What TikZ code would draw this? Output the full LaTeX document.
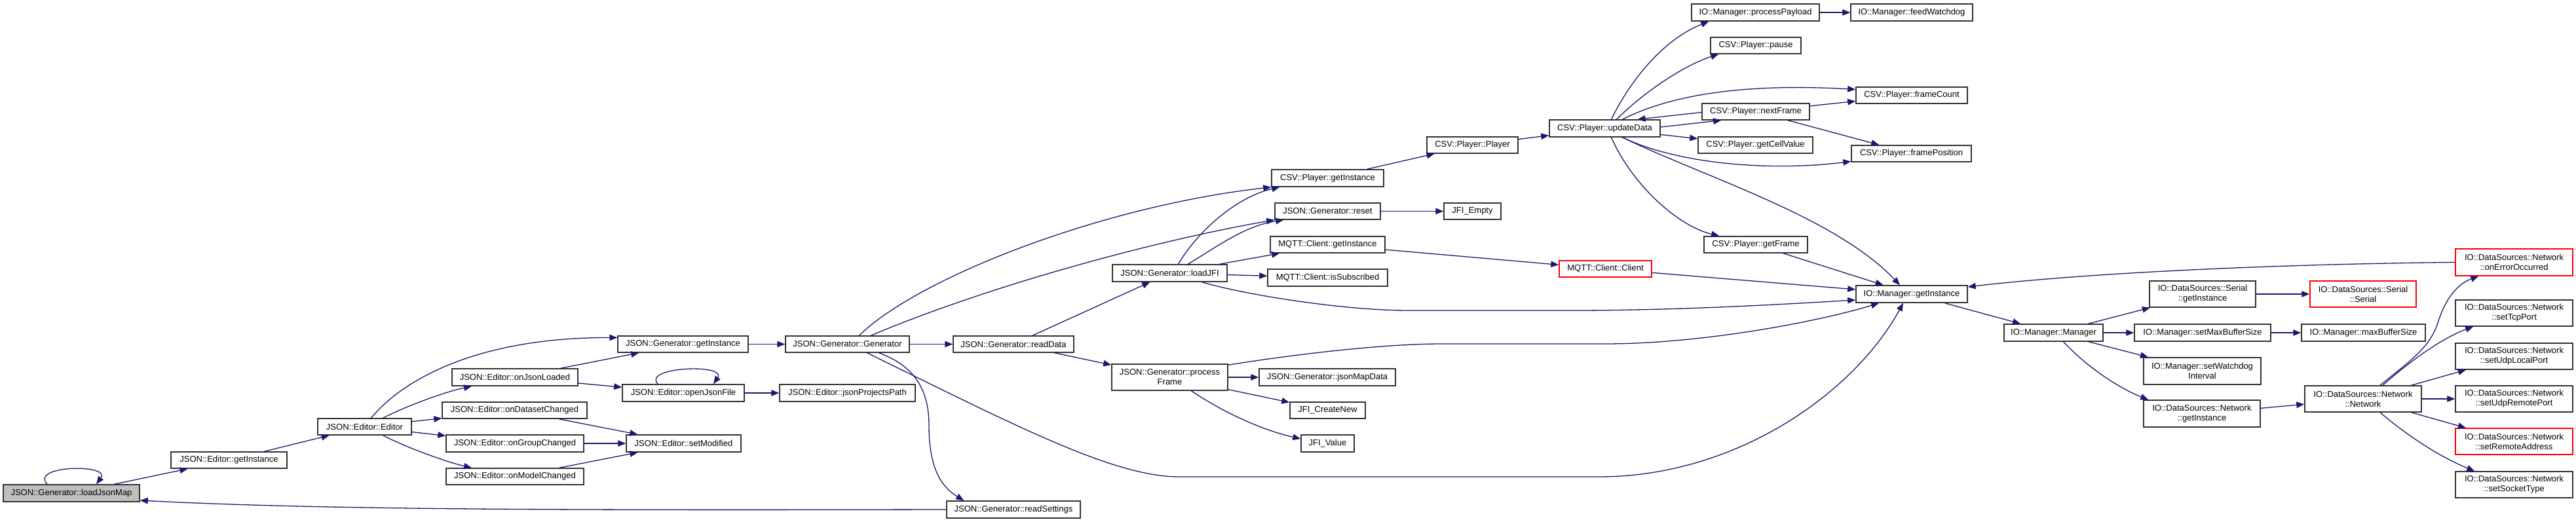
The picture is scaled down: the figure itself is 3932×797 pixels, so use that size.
\documentclass[tikz,border=0pt]{standalone}
\usepackage{fontspec}
\newfontfamily\dxfont{Liberation Sans}
\usetikzlibrary{arrows.meta,calc}
\definecolor{dxblue}{HTML}{191970}
\definecolor{dxgray}{HTML}{BFBFBF}
\tikzset{
  box/.style={draw=black!80, line width=1.5pt, fill=white, inner sep=0pt, align=center,
    font=\dxfont\fontsize{13}{15}\selectfont},
  redbox/.style={box, draw=red},
  edge/.style={draw=dxblue, line width=1.3pt, -{Triangle[length=12pt,width=9.5pt]}}
}
\begin{document}
\begin{tikzpicture}[x=1pt,y=-1pt]
\useasboundingbox (0,0) rectangle (3932,797);
% nodes
\node[box, fill=dxgray, minimum width=208, minimum height=26] (ljm) at (109,753) {JSON::Generator::loadJsonMap};
\node[box, minimum width=177, minimum height=25] (egi) at (349.5,702.5) {JSON::Editor::getInstance};
\node[box, minimum width=143, minimum height=25] (eed) at (556.5,651.5) {JSON::Editor::Editor};
\node[box, minimum width=199, minimum height=25] (ggi) at (1042.5,525.5) {JSON::Generator::getInstance};
\node[box, minimum width=189, minimum height=25] (ggen) at (1293.5,525.5) {JSON::Generator::Generator};
\node[box, minimum width=192, minimum height=26] (ojl) at (786,576) {JSON::Editor::onJsonLoaded};
\node[box, minimum width=186, minimum height=26] (ojf) at (1043,600) {JSON::Editor::openJsonFile};
\node[box, minimum width=207, minimum height=26] (jpp) at (1293.5,600) {JSON::Editor::jsonProjectsPath};
\node[box, minimum width=221, minimum height=25] (odc) at (785.5,626.5) {JSON::Editor::onDatasetChanged};
\node[box, minimum width=210, minimum height=26] (ogc) at (786,677) {JSON::Editor::onGroupChanged};
\node[box, minimum width=175, minimum height=26] (smod) at (1043.5,677) {JSON::Editor::setModified};
\node[box, minimum width=210, minimum height=25] (omc) at (786,727.5) {JSON::Editor::onModelChanged};
\node[box, minimum width=184, minimum height=25] (rdata) at (1547,525.5) {JSON::Generator::readData};
\node[box, minimum width=204, minimum height=26] (rset) at (1547,778) {JSON::Generator::readSettings};
\node[box, minimum width=175, minimum height=26] (ljfi) at (1785.5,417) {JSON::Generator::loadJFI};
\node[box, minimum width=177, minimum height=40] (pfr) at (1785.5,576) {JSON::Generator::process\\Frame};
\node[box, minimum width=171, minimum height=26] (cgi) at (2026.5,272) {CSV::Player::getInstance};
\node[box, minimum width=161, minimum height=25] (rst) at (2026.5,322.5) {JSON::Generator::reset};
\node[box, minimum width=175, minimum height=25] (mgi) at (2026.5,373.5) {MQTT::Client::getInstance};
\node[box, minimum width=183, minimum height=26] (misb) at (2026.5,424) {MQTT::Client::isSubscribed};
\node[box, minimum width=208, minimum height=26] (jmd) at (2026,576) {JSON::Generator::jsonMapData};
\node[box, minimum width=115, minimum height=25] (jcn) at (2026.5,626.5) {JFI\_CreateNew};
\node[box, minimum width=81, minimum height=26] (jval) at (2026.5,677) {JFI\_Value};
\node[box, minimum width=87, minimum height=25] (jem) at (2247.5,322.5) {JFI\_Empty};
\node[box, minimum width=139, minimum height=25] (cpl) at (2247.5,221.5) {CSV::Player::Player};
\node[redbox, minimum width=141, minimum height=25] (mcl) at (2450.5,410.5) {MQTT::Client::Client};
\node[box, minimum width=169, minimum height=26] (upd) at (2449.5,196) {CSV::Player::updateData};
\node[box, minimum width=195, minimum height=26] (ppl) at (2679.5,19) {IO::Manager::processPayload};
\node[box, minimum width=186, minimum height=26] (fwd) at (2918,19) {IO::Manager::feedWatchdog};
\node[box, minimum width=138, minimum height=25] (pau) at (2680,69.5) {CSV::Player::pause};
\node[box, minimum width=164, minimum height=25] (nxf) at (2680,170.5) {CSV::Player::nextFrame};
\node[box, minimum width=175, minimum height=25] (gcv) at (2679.5,221.5) {CSV::Player::getCellValue};
\node[box, minimum width=158, minimum height=25] (gfr) at (2680,373.5) {CSV::Player::getFrame};
\node[box, minimum width=170, minimum height=25] (fco) at (2918,145.5) {CSV::Player::frameCount};
\node[box, minimum width=183, minimum height=25] (fpo) at (2917.5,234.5) {CSV::Player::framePosition};
\node[box, minimum width=170, minimum height=26] (mgi2) at (2918,449) {IO::Manager::getInstance};
\node[box, minimum width=151, minimum height=26] (mmg) at (3134.5,508) {IO::Manager::Manager};
\node[box, minimum width=162, minimum height=40] (sgi) at (3362,449) {IO::DataSources::Serial\\::getInstance};
\node[redbox, minimum width=162, minimum height=40] (ssr) at (3607,449) {IO::DataSources::Serial\\::Serial};
\node[box, minimum width=208, minimum height=26] (smb) at (3362,508) {IO::Manager::setMaxBufferSize};
\node[box, minimum width=189, minimum height=26] (mbs) at (3607.5,508) {IO::Manager::maxBufferSize};
\node[box, minimum width=179, minimum height=41] (swi) at (3361.5,566.5) {IO::Manager::setWatchdog\\Interval};
\node[box, minimum width=178, minimum height=41] (ngi) at (3361,631.5) {IO::DataSources::Network\\::getInstance};
\node[box, minimum width=178, minimum height=40] (nnw) at (3607,609) {IO::DataSources::Network\\::Network};
\node[redbox, minimum width=179, minimum height=41] (oeo) at (3837.5,400.5) {IO::DataSources::Network\\::onErrorOccurred};
\node[box, minimum width=179, minimum height=40] (stp) at (3837.5,478) {IO::DataSources::Network\\::setTcpPort};
\node[box, minimum width=179, minimum height=40] (sul) at (3837.5,544) {IO::DataSources::Network\\::setUdpLocalPort};
\node[box, minimum width=179, minimum height=40] (sur) at (3837.5,609) {IO::DataSources::Network\\::setUdpRemotePort};
\node[redbox, minimum width=179, minimum height=40] (sra) at (3837.5,674) {IO::DataSources::Network\\::setRemoteAddress};
\node[box, minimum width=179, minimum height=40] (sst) at (3837.5,740) {IO::DataSources::Network\\::setSocketType};
% edges
\draw[edge] ($(ljm.north)+(-37,0)$) .. controls (45,710) and (170,708) .. ($(ljm.north)+(38,0)$);
\draw[edge] (ljm) -- (egi);
\draw[edge] (egi) -- (eed);
\draw[edge] ($(eed.north)+(10,0)$) .. controls (610,585) and (720,515) .. ($(ggi.west)+(0,-10)$);
\draw[edge] ($(eed.north)+(28,0)$) .. controls (620,620) and (680,598) .. ($(ojl.south)+(-66,0)$);
\draw[edge] (eed) -- (odc);
\draw[edge] (eed) -- (ogc);
\draw[edge] ($(eed.south)+(28,0)$) .. controls (620,683) and (680,705) .. ($(omc.north)+(-66,0)$);
\draw[edge] (ojl) -- (ggi);
\draw[edge] (ojl) -- (ojf);
\draw[edge] ($(ojf.north)+(-39,0)$) .. controls (980,560) and (1110,555) .. ($(ojf.north)+(46,0)$);
\draw[edge] (ojf) -- (jpp);
\draw[edge] (odc) -- (smod);
\draw[edge] (ogc) -- (smod);
\draw[edge] (omc) -- (smod);
\draw[edge] (ggi) -- (ggen);
\draw[edge] ($(ggen.north)+(18,0)$) .. controls (1400,425) and (1680,315) .. (cgi.south west);
\draw[edge] ($(ggen.north)+(36,0)$) .. controls (1500,440) and (1750,370) .. (rst.south west);
\draw[edge] (ggen) -- (rdata);
\draw[edge] ($(ggen.south)+(48,0)$) .. controls (1400,560) and (1418,600) .. (1418,650) .. controls (1418,720) and (1440,745) .. ($(rset.north west)+(27,0)$);
\draw[edge] ($(ggen.south)+(30,0)$) .. controls (1550,650) and (1700,728) .. (1800,728) -- (2440,728) .. controls (2650,728) and (2830,600) .. ($(mgi2.south)+(-13,0)$);
\draw[edge] (rdata) -- (ljfi);
\draw[edge] (rdata) -- (pfr);
\draw[edge] (rset.west) .. controls (900,779) and (500,779) .. ($(ljm.east)+(0,11)$);
\draw[edge] ($(ljfi.north)+(13,0)$) .. controls (1830,350) and (1890,300) .. ($(cgi.south west)+(13,0)$);
\draw[edge] ($(ljfi.north)+(28,0)$) .. controls (1860,375) and (1900,345) .. ($(rst.south west)+(14,0)$);
\draw[edge] (ljfi) -- (mgi);
\draw[edge] (ljfi) -- (misb);
\draw[edge] ($(ljfi.south)+(49,0)$) .. controls (1900,450) and (2050,474) .. (2150,474) -- (2400,474) .. controls (2550,474) and (2700,466) .. ($(mgi2.west)+(0,9)$);
\draw[edge] ($(pfr.north east)+(0,2)$) .. controls (1950,545) and (2100,525) .. (2200,525) -- (2450,525) .. controls (2600,525) and (2780,490) .. ($(mgi2.south)+(-50,0)$);
\draw[edge] (pfr) -- (jmd);
\draw[edge] (pfr) -- (jcn);
\draw[edge] ($(pfr.south)+(33,0)$) .. controls (1860,625) and (1920,655) .. ($(jval.west)+(0,-7)$);
\draw[edge] (cgi) -- (cpl);
\draw[edge] (rst) -- (jem);
\draw[edge] (mgi) -- (mcl);
\draw[edge] (cpl) -- (upd);
\draw[edge] (mcl) -- (mgi2);
\draw[edge] ($(upd.north)+(10,0)$) .. controls (2490,120) and (2540,60) .. ($(ppl.south west)+(27,0)$);
\draw[edge] ($(upd.north)+(18,0)$) .. controls (2510,140) and (2570,100) .. ($(pau.south west)+(13,0)$);
\draw[edge] ($(upd.north)+(27,0)$) .. controls (2560,140) and (2680,128) .. ($(fco.west)+(0,-9)$);
\draw[edge] ($(nxf.west)+(0,1)$) -- ($(upd.north)+(50,0)$);
\draw[edge] ($(upd.east)+(0,-2)$) -- ($(nxf.south west)+(30,0)$);
\draw[edge] (upd) -- (gcv);
\draw[edge] ($(upd.south)+(27,0)$) .. controls (2560,250) and (2700,262) .. ($(fpo.west)+(0,12)$);
\draw[edge] ($(upd.south)+(27,0)$) .. controls (2600,270) and (2800,330) .. ($(mgi2.north)+(-18,0)$);
\draw[edge] ($(upd.south)+(10,0)$) .. controls (2490,280) and (2560,345) .. ($(gfr.north west)+(24,0)$);
\draw[edge] (gfr) -- (mgi2);
\draw[edge] (nxf) -- (fco);
\draw[edge] (nxf) -- (fpo);
\draw[edge] (ppl) -- (fwd);
\draw[edge] (mgi2) -- (mmg);
\draw[edge] (oeo.west) .. controls (3500,403) and (3200,415) .. ($(mgi2.east)+(0,-11)$);
\draw[edge] (mmg) -- (sgi);
\draw[edge] (mmg) -- (smb);
\draw[edge] (mmg) -- (swi);
\draw[edge] ($(mmg.south)+(15,0)$) .. controls (3190,565) and (3240,595) .. ($(ngi.north west)+(8,0)$);
\draw[edge] (sgi) -- (ssr);
\draw[edge] (smb) -- (mbs);
\draw[edge] (ngi) -- (nnw);
\draw[edge] ($(nnw.north)+(26,0)$) .. controls (3680,550) and (3710,530) .. (3722,490) .. controls (3735,450) and (3755,432) .. ($(oeo.south west)+(36,0)$);
\draw[edge] ($(nnw.north)+(30,0)$) .. controls (3680,550) and (3730,515) .. ($(stp.south west)+(28,0)$);
\draw[edge] (nnw) -- (sul);
\draw[edge] (nnw) -- (sur);
\draw[edge] (nnw) -- (sra);
\draw[edge] ($(nnw.south)+(26,0)$) .. controls (3680,670) and (3730,700) .. ($(sst.north west)+(30,0)$);
\end{tikzpicture}
\end{document}
